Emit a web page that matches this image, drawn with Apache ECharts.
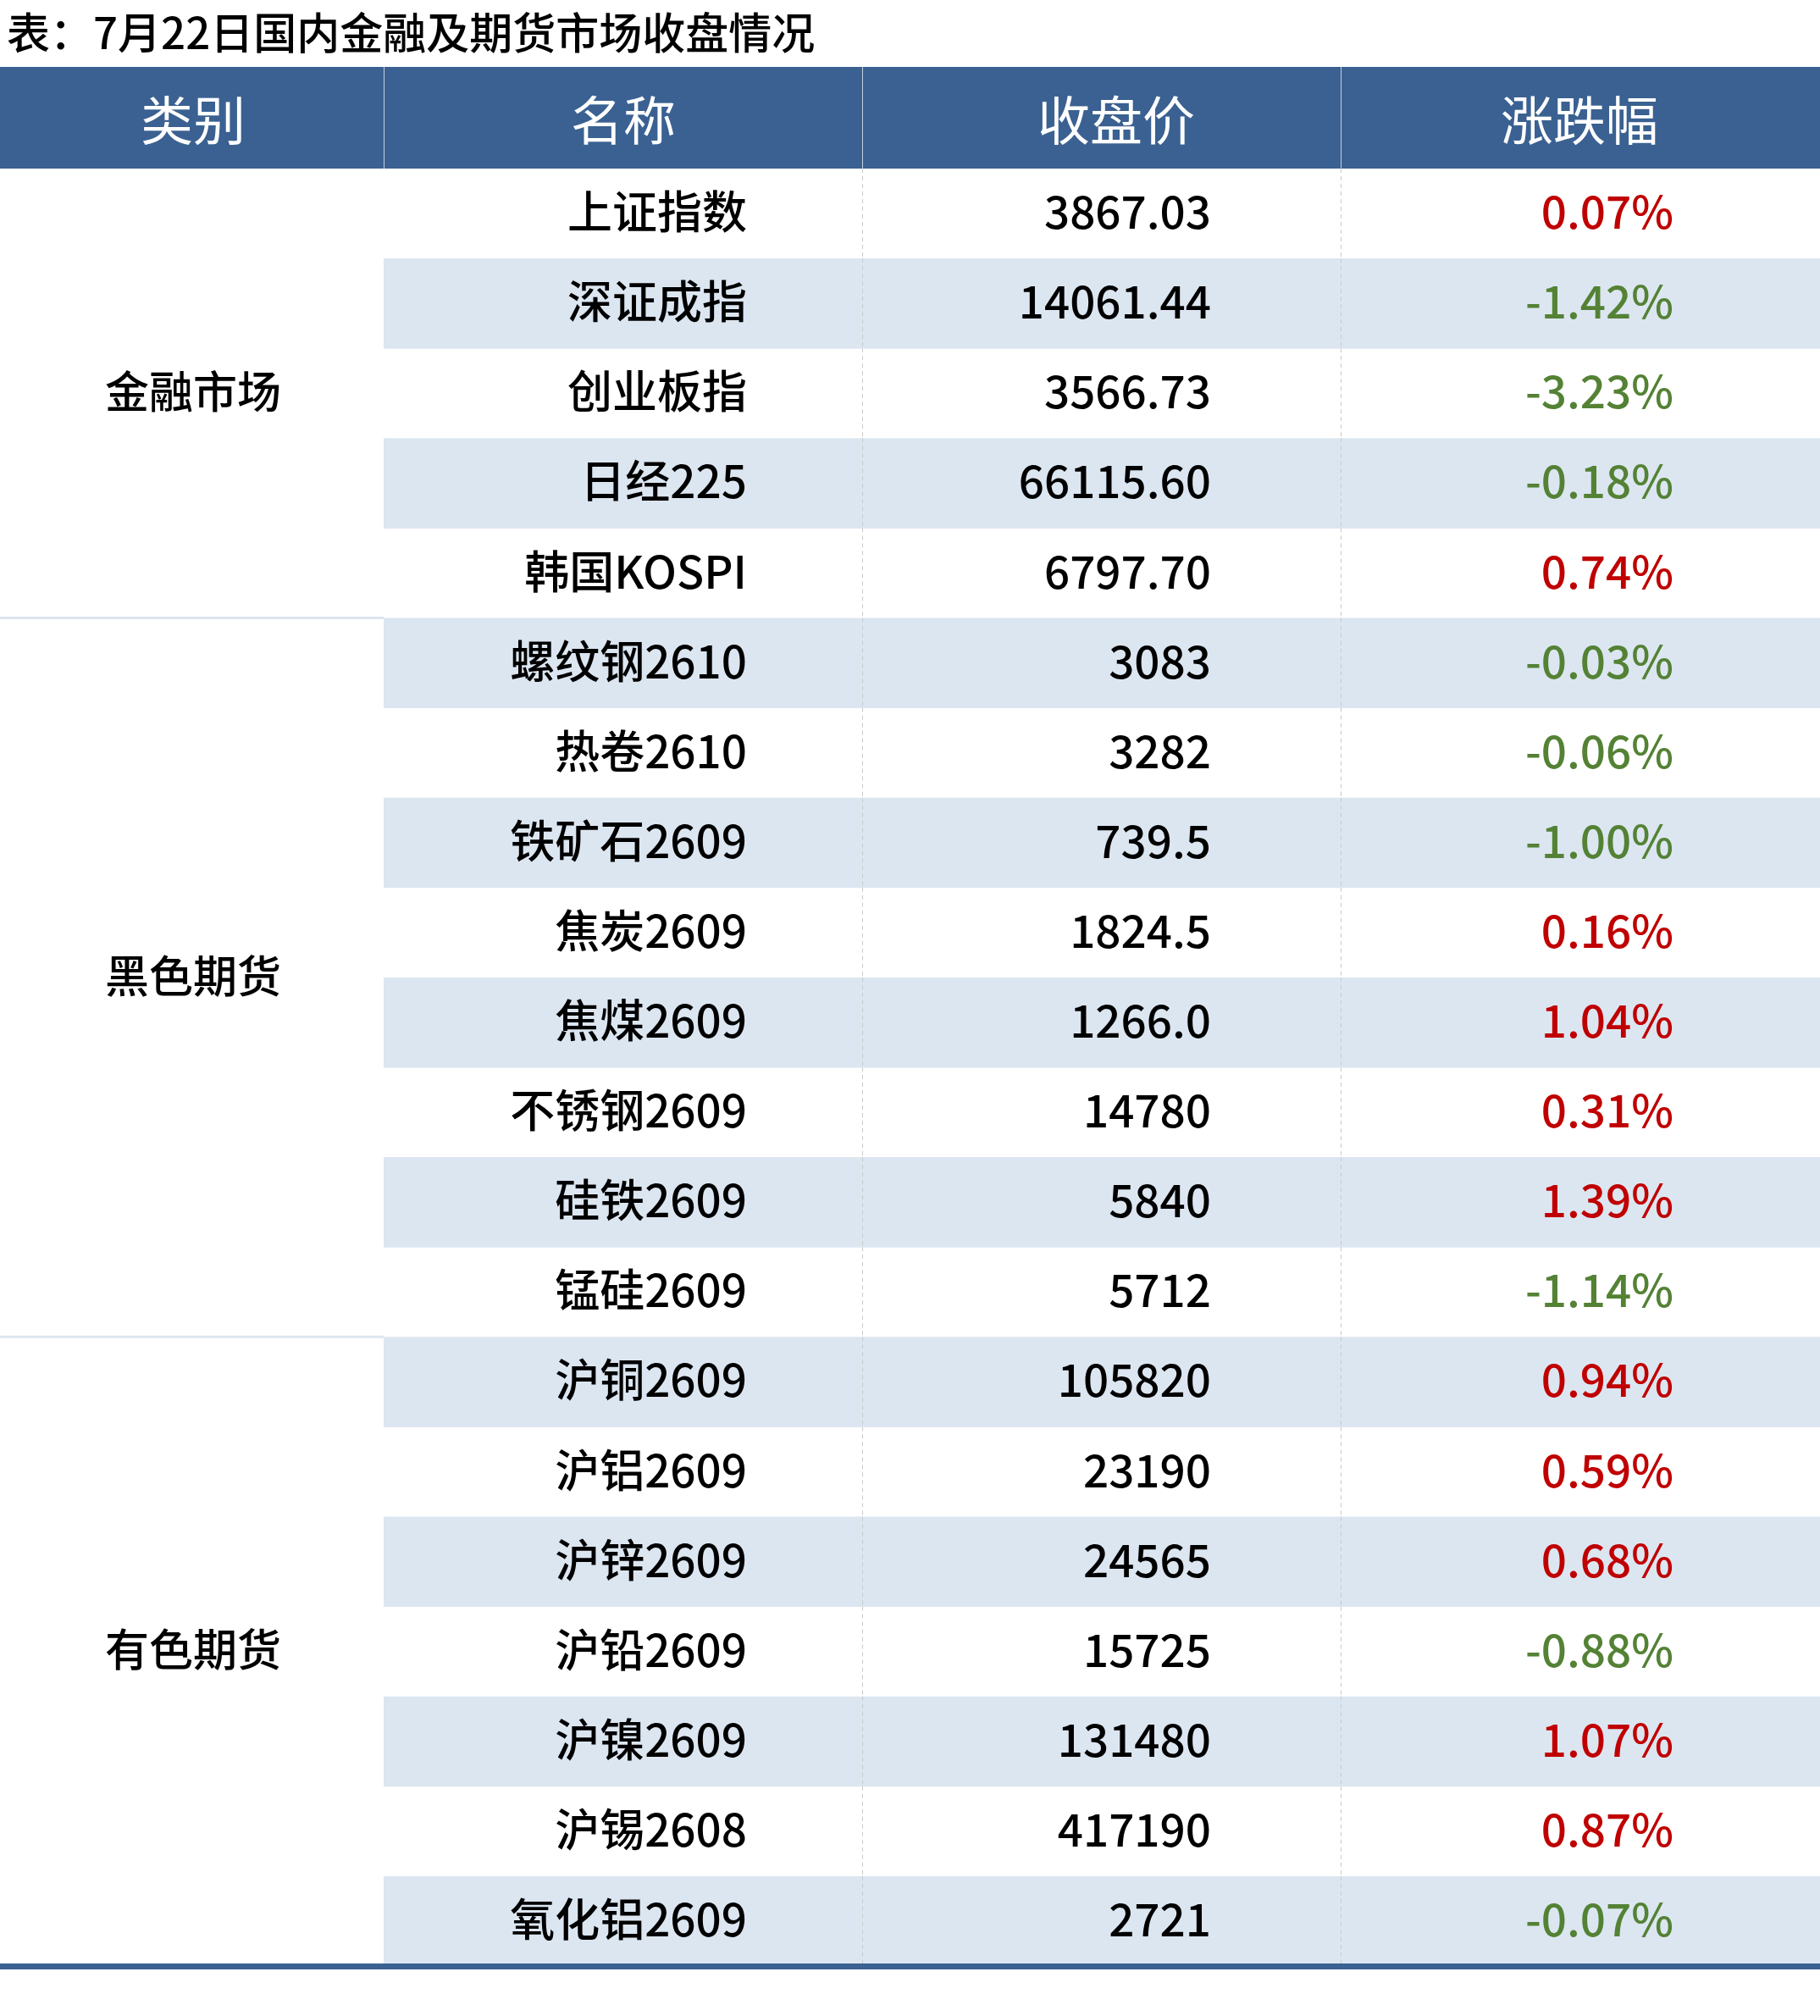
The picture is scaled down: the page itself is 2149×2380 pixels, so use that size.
<!DOCTYPE html>
<html>
<head>
<meta charset="utf-8">
<script src="https://cdn.jsdelivr.net/npm/echarts@6/dist/echarts.min.js"></script>
<style>
  html, body { margin: 0; padding: 0; background: #fff; }
  #main { width: 2149px; height: 2380px; }
</style>
</head>
<body>
<div id="main"></div>
<script>
// 表格数据
var title = '表：7月22日国内金融及期货市场收盘情况';
var headers = ['类别', '名称', '收盘价', '涨跌幅'];
var groups = ['金融市场', '黑色期货', '有色期货'];
var groupSizes = [5, 8, 7];
var names = ['上证指数', '深证成指', '创业板指', '日经225', '韩国KOSPI',
  '螺纹钢2610', '热卷2610', '铁矿石2609', '焦炭2609', '焦煤2609', '不锈钢2609', '硅铁2609', '锰硅2609',
  '沪铜2609', '沪铝2609', '沪锌2609', '沪铅2609', '沪镍2609', '沪锡2608', '氧化铝2609'];
var prices = ['3867.03', '14061.44', '3566.73', '66115.60', '6797.70',
  '3083', '3282', '739.5', '1824.5', '1266.0', '14780', '5840', '5712',
  '105820', '23190', '24565', '15725', '131480', '417190', '2721'];
var changes = [0.07, -1.42, -3.23, -0.18, 0.74,
  -0.03, -0.06, -1.00, 0.16, 1.04, 0.31, 1.39, -1.14,
  0.94, 0.59, 0.68, -0.88, 1.07, 0.87, -0.07];

// 版式（横轴单位与像素一致）
var colEdges = [0, 453, 1018, 1583, 2149];
var headerCenters = [228, 736, 1318, 1865];
var textRight = [882, 1430, 1976];

var BLUE = '#3A6191';
var BAND = '#DCE6F1';
var RED = '#C00000';
var GREEN = '#548235';
var FONT = '"Noto Sans CJK SC", "Noto Sans", sans-serif';

var chart = echarts.init(document.getElementById('main'));

function renderHeader(params, api) {
  var i = params.dataIndex;
  var c = api.coord([headerCenters[i], 0]);
  var h = api.size([0, 1])[1];
  var x0 = api.coord([colEdges[i], 0])[0];
  var x1 = api.coord([colEdges[i + 1], 0])[0];
  var kids = [
    { type: 'rect', shape: { x: x0, y: c[1] - h / 2, width: x1 - x0, height: h }, style: { fill: BLUE } },
    { type: 'text', style: { x: c[0], y: c[1] + 3, text: headers[i], fill: '#fff',
      font: 'normal 62px ' + FONT, align: 'center', verticalAlign: 'middle' } }
  ];
  if (i > 0) {
    kids.push({ type: 'line', shape: { x1: x0 + 0.5, y1: c[1] - h / 2, x2: x0 + 0.5, y2: c[1] + h / 2 },
      style: { stroke: 'rgba(255,255,255,0.7)', lineWidth: 1 } });
  }
  return { type: 'group', children: kids };
}

function renderRow(params, api) {
  var i = params.dataIndex;
  var c = api.coord([0, i]);
  var h = api.size([0, 1])[1];
  var top = c[1] - h / 2;
  var px = function (v) { return api.coord([v, i])[0]; };
  var kids = [];
  if (i % 2 === 1) {
    kids.push({ type: 'rect', shape: { x: px(colEdges[1]), y: top, width: px(colEdges[4]) - px(colEdges[1]), height: h + 0.5 },
      style: { fill: BAND } });
  }
  [2, 3].forEach(function (k) {
    var xx = Math.round(px(colEdges[k])) + 0.5;
    kids.push({ type: 'line', shape: { x1: xx, y1: top, x2: xx, y2: top + h },
      style: { stroke: '#c9c9c9', lineWidth: 1, lineDash: [5, 4] } });
  });
  var chg = changes[i];
  var cells = [names[i], prices[i], chg.toFixed(2) + '%'];
  var colors = ['#000', '#000', chg >= 0 ? RED : GREEN];
  cells.forEach(function (t, k) {
    kids.push({ type: 'text', style: { x: px(textRight[k]), y: c[1] - 2, text: t, fill: colors[k],
      font: '500 53px ' + FONT, align: 'right', verticalAlign: 'middle' } });
  });
  return { type: 'group', children: kids };
}

function renderGroup(params, api) {
  var g = params.dataIndex;
  var start = 0;
  for (var k = 0; k < g; k++) start += groupSizes[k];
  var end = start + groupSizes[g] - 1;
  var h = api.size([0, 1])[1];
  var top = api.coord([0, start])[1] - h / 2;
  var bottom = api.coord([0, end])[1] + h / 2;
  var cx = api.coord([headerCenters[0], start])[0];
  var kids = [
    { type: 'text', style: { x: cx, y: (top + bottom) / 2 - 2, text: groups[g], fill: '#000',
      font: '500 52px ' + FONT, align: 'center', verticalAlign: 'middle' } }
  ];
  if (g < groups.length - 1) {
    kids.push({ type: 'line', shape: { x1: api.coord([colEdges[0], start])[0], y1: bottom, x2: api.coord([colEdges[1], start])[0], y2: bottom },
      style: { stroke: '#dde5ee', lineWidth: 3 } });
  }
  return { type: 'group', children: kids };
}

var rowIdx = names.map(function (n, i) { return [0, i]; });
var groupIdx = groups.map(function (g, i) { return [0, i]; });
var headIdx = headers.map(function (h, i) { return [headerCenters[i], 0]; });

chart.setOption({
  backgroundColor: '#fff',
  animation: false,
  title: {
    text: title, left: 3, top: 4,
    textStyle: { fontFamily: FONT, fontSize: 51, fontWeight: 500, color: '#000', lineHeight: 60 }
  },
  grid: [
    { left: 0, right: 0, top: 79, height: 120 },
    { left: 0, right: 0, top: 199, height: 2122 }
  ],
  xAxis: [
    { gridIndex: 0, type: 'value', min: 0, max: 2149, show: false },
    { gridIndex: 1, type: 'value', min: 0, max: 2149, z: 10, splitLine: { show: false },
      axisLabel: { show: false }, axisTick: { show: false },
      axisLine: { show: true, onZero: false, lineStyle: { color: BLUE, width: 7 } } }
  ],
  yAxis: [
    { gridIndex: 0, type: 'category', data: ['表头'], show: false },
    { gridIndex: 1, type: 'category', data: names, inverse: true, show: false }
  ],
  series: [
    { type: 'custom', name: '表头', xAxisIndex: 0, yAxisIndex: 0, data: headIdx, renderItem: renderHeader, silent: true },
    { type: 'custom', name: '行', xAxisIndex: 1, yAxisIndex: 1, data: rowIdx, renderItem: renderRow, silent: true, z: 2 },
    { type: 'custom', name: '类别', xAxisIndex: 1, yAxisIndex: 1, data: groupIdx, renderItem: renderGroup, silent: true, z: 3 }
  ]
});
</script>
</body>
</html>
